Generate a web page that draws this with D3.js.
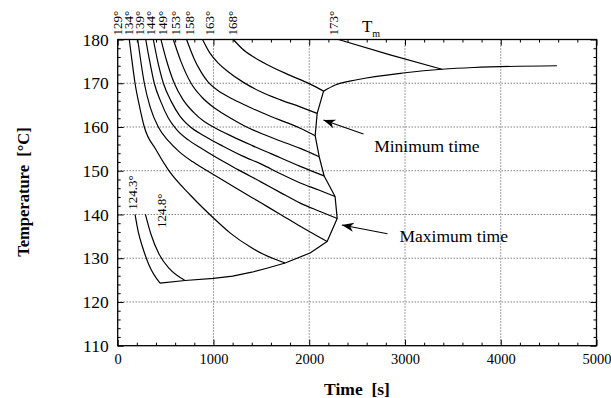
<!DOCTYPE html>
<html>
<head>
<meta charset="utf-8">
<script src="https://cdn.jsdelivr.net/npm/d3@7"></script>
<style>
  body { margin: 0; background: #fff; }
  svg { display: block; font-family: "Liberation Serif", "Times New Roman", serif; }
</style>
</head>
<body>
<svg id="chart" width="611" height="398"></svg>
<script>
// Axis ticks and grid
const timeTicks = [0, 1000, 2000, 3000, 4000, 5000];
const tempTicks = [110, 120, 130, 140, 150, 160, 170, 180];
const gridTimes = [1000, 2000, 3000, 4000];
const gridTemps = [120, 130, 140, 150, 160, 170];

// Isotherm paths [time s, temperature °C]
const iso129 = [[121,180],[150,175],[181,170],[225,165],[278,160],[400,154.8],[529,150.2],[760,144.4],[1000,139.2],[1173,135.8],[1382,132.6],[1522,130.9],[1749,128.9]];
const iso134 = [[209,180],[240,175.2],[278,170],[340,164.5],[424,160],[530,156.8],[650,154.2],[780,152.1],[912,150.3],[1100,147.8],[1300,145.2],[1500,142.6],[1700,140.0],[1906,137.3],[2187,133.8]];
const iso139 = [[293,180],[330,175.5],[382,170],[450,165.8],[530,162.0],[620,159.3],[740,157.0],[860,155.3],[1000,153.4],[1260,150.2],[1500,147.4],[1700,145.0],[1906,142.6],[2100,140.8],[2292,139.1]];
const iso144 = [[372,180],[415,175.3],[477,170],[560,165.8],[650,162.5],[760,160.0],[900,158.0],[1100,155.6],[1300,153.4],[1500,151.5],[1700,149.3],[1906,147.2],[2100,145.6],[2270,144.1]];
const iso149 = [[452,180],[510,175.2],[591,170],[680,166.3],[790,163.4],[900,161.3],[1000,160.0],[1200,157.8],[1400,155.8],[1600,153.9],[1906,151.0],[2156,148.8]];
const iso153 = [[581,180],[660,175.0],[766,170],[880,166.8],[1000,164.5],[1150,162.4],[1320,160.3],[1500,158.5],[1700,156.8],[1906,155.1],[2104,153.2]];
const iso158 = [[719,180],[800,175.5],[870,172.6],[947,170.2],[1050,168.3],[1200,166.4],[1400,164.3],[1600,162.4],[1800,160.7],[1906,159.7],[2062,158.0]];
const iso163 = [[886,180],[960,177.0],[1050,174.6],[1150,172.7],[1313,170.2],[1500,168.0],[1700,166.2],[1906,164.6],[2083,163.1]];
const iso168 = [[1208,180],[1300,177.9],[1420,176.0],[1557,174.3],[1800,171.8],[2010,169.8],[2150,168.2]];
const iso173 = [[2305,180],[2845,176.5],[3386,173.2]];
const iso1243 = [[181,140],[215,136],[260,132.5],[330,128.3],[442,124.3]];
const iso1248 = [[290,140],[350,135.3],[430,131.0],[540,127.6],[703,124.9]];

// Labels at the top of the frame
const topLabels = ["129°", "134°", "139°", "144°", "149°", "153°", "158°", "163°", "168°", "173°"];
const topLabelTimes = [50, 162, 277, 392, 510, 653, 799, 1001, 1241, 2297];

// Labels for the two low isotherms
const lowLabels = ["124.3°", "124.8°"];
const lowLabelTimes = [202, 505];
const lowLabelTemps = [141.1, 136.9];

// Melting branch and locus of the isotherm end points
const meltBranch = [[2150,168.2],[2272,169.6],[2497,170.8],[3002,172.4],[3386,173.2],[3716,173.6],[4587,174.0]];
const endLocus = [[2150,168.2],[2083,163.1],[2062,158.0],[2104,153.2],[2156,148.8],[2270,144.1],[2292,139.1],[2187,133.8],[2009,131.2],[1749,128.9],[1557,127.7],[1400,126.8],[1200,125.9],[1000,125.4],[703,124.9],[442,124.3]];

// Arrow annotations
const noteTexts = ["Minimum time", "Maximum time"];
const noteTips = [[2148,161.6],[2341,137.6]];
const noteTails = [[2566,158.4],[2817,135.6]];
const noteTextAt = [[2678,154.2],[2943,133.8]];

const isotherms = [iso129, iso134, iso139, iso144, iso149, iso153, iso158, iso163, iso168, iso173, iso1243, iso1248];

const svg = d3.select("#chart");
const m = { left: 117.7, right: 596.5, top: 39.5, bottom: 345.7 };

const x = d3.scaleLinear().domain([0, 5000]).range([m.left, m.right]);
const y = d3.scaleLinear().domain([110, 180]).range([m.bottom, m.top]);

// dotted grid
const grid = svg.append("g").attr("stroke", "#444").attr("stroke-width", 1).attr("stroke-dasharray", "1,2");
grid.selectAll("line.gx").data(gridTimes).join("line")
  .attr("x1", d => x(d)).attr("x2", d => x(d)).attr("y1", m.top).attr("y2", m.bottom);
grid.selectAll("line.gy").data(gridTemps).join("line")
  .attr("x1", m.left).attr("x2", m.right).attr("y1", d => y(d)).attr("y2", d => y(d));

// axes with inward ticks
function styleAxis(g) {
  g.select(".domain").remove();
  g.selectAll(".tick line").attr("stroke", "#000").attr("stroke-width", 1);
}
const minorX = x.ticks(25).filter(v => !timeTicks.includes(v));
const minorY = y.ticks(35).filter(v => !tempTicks.includes(v));

svg.append("g").attr("transform", `translate(0,${m.bottom})`)
  .call(d3.axisBottom(x).tickValues(timeTicks).tickSizeInner(-6).tickSizeOuter(0).tickPadding(8).tickFormat(d3.format("d")))
  .call(styleAxis)
  .call(g => g.selectAll("text").attr("font-size", 14.5).attr("font-family", "Liberation Serif").attr("fill", "#000"));
svg.append("g").attr("transform", `translate(0,${m.bottom})`)
  .call(d3.axisBottom(x).tickValues(minorX).tickSizeInner(-3).tickSizeOuter(0).tickFormat(""))
  .call(styleAxis);

svg.append("g").attr("transform", `translate(0,${m.top})`)
  .call(d3.axisTop(x).tickValues(timeTicks).tickSizeInner(-6).tickSizeOuter(0).tickFormat(""))
  .call(styleAxis);
svg.append("g").attr("transform", `translate(0,${m.top})`)
  .call(d3.axisTop(x).tickValues(minorX).tickSizeInner(-3).tickSizeOuter(0).tickFormat(""))
  .call(styleAxis);

svg.append("g").attr("transform", `translate(${m.left},0)`)
  .call(d3.axisLeft(y).tickValues(tempTicks).tickSizeInner(-6).tickSizeOuter(0).tickPadding(9).tickFormat(d3.format("d")))
  .call(styleAxis)
  .call(g => g.selectAll("text").attr("font-size", 17.5).attr("font-family", "Liberation Serif").attr("fill", "#000"));
svg.append("g").attr("transform", `translate(${m.left},0)`)
  .call(d3.axisLeft(y).tickValues(minorY).tickSizeInner(-3).tickSizeOuter(0).tickFormat(""))
  .call(styleAxis);

svg.append("g").attr("transform", `translate(${m.right},0)`)
  .call(d3.axisRight(y).tickValues(tempTicks).tickSizeInner(-6).tickSizeOuter(0).tickFormat(""))
  .call(styleAxis);
svg.append("g").attr("transform", `translate(${m.right},0)`)
  .call(d3.axisRight(y).tickValues(minorY).tickSizeInner(-3).tickSizeOuter(0).tickFormat(""))
  .call(styleAxis);

// frame
svg.append("rect")
  .attr("x", m.left).attr("y", m.top)
  .attr("width", m.right - m.left).attr("height", m.bottom - m.top)
  .attr("fill", "none").attr("stroke", "#000").attr("stroke-width", 1.3);

// isotherms
const smooth = d3.line().x(d => x(d[0])).y(d => y(d[1])).curve(d3.curveMonotoneX);
const straight = d3.line().x(d => x(d[0])).y(d => y(d[1]));

svg.append("g").attr("fill", "none").attr("stroke", "#000").attr("stroke-width", 1.2)
  .selectAll("path").data(isotherms).join("path").attr("d", smooth);

svg.append("path").datum(meltBranch).attr("d", smooth)
  .attr("fill", "none").attr("stroke", "#000").attr("stroke-width", 1.2);
svg.append("path").datum(endLocus).attr("d", straight)
  .attr("fill", "none").attr("stroke", "#000").attr("stroke-width", 1.2).attr("stroke-linejoin", "round");

// isotherm labels along the top edge
svg.append("g").selectAll("text").data(topLabels).join("text")
  .attr("transform", (d, i) => `translate(${x(topLabelTimes[i])},${m.top - 4}) rotate(-90)`)
  .attr("font-size", 13).attr("fill", "#000").text(d => d);

// labels for the low isotherms
svg.append("g").selectAll("text").data(lowLabels).join("text")
  .attr("transform", (d, i) => `translate(${x(lowLabelTimes[i])},${y(lowLabelTemps[i])}) rotate(-90)`)
  .attr("font-size", 13).attr("fill", "#000").text(d => d);

// T_m
const tm = svg.append("text").attr("x", x(2550)).attr("y", m.top - 8).attr("font-size", 17).attr("fill", "#000");
tm.append("tspan").text("T");
tm.append("tspan").attr("font-size", 10).attr("dy", 5).text("m");

// arrows
svg.append("defs").append("marker")
  .attr("id", "head").attr("markerUnits", "userSpaceOnUse")
  .attr("viewBox", "-1 -6 14 12").attr("markerWidth", 14).attr("markerHeight", 12)
  .attr("refX", 0).attr("refY", 0).attr("orient", "auto")
  .append("path").attr("d", "M0,0 L12,-4.5 L8.5,0 L12,4.5 Z").attr("fill", "#000");

svg.append("g").selectAll("line").data(noteTexts).join("line")
  .attr("x1", (d, i) => x(noteTips[i][0])).attr("y1", (d, i) => y(noteTips[i][1]))
  .attr("x2", (d, i) => x(noteTails[i][0])).attr("y2", (d, i) => y(noteTails[i][1]))
  .attr("stroke", "#000").attr("stroke-width", 1.1)
  .attr("marker-start", "url(#head)");

svg.append("g").selectAll("text").data(noteTexts).join("text")
  .attr("x", (d, i) => x(noteTextAt[i][0])).attr("y", (d, i) => y(noteTextAt[i][1]))
  .attr("font-size", 17.5).attr("fill", "#000").text(d => d);

// axis titles
svg.append("text").attr("x", 357).attr("y", 395)
  .attr("text-anchor", "middle").attr("font-size", 17.5).attr("font-weight", "bold")
  .style("white-space", "pre").attr("fill", "#000").text("Time  [s]");
svg.append("text").attr("transform", "translate(29,192) rotate(-90)")
  .attr("text-anchor", "middle").attr("font-size", 16.5).attr("font-weight", "bold")
  .style("white-space", "pre").attr("fill", "#000").text("Temperature  [°C]");
</script>
</body>
</html>
